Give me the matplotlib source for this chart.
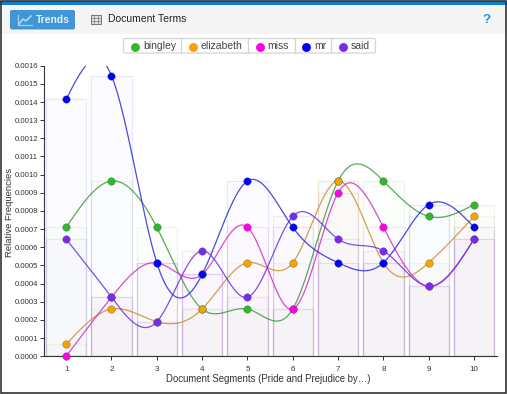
"""Trends panel: relative frequencies of five terms across document segments."""

import matplotlib
matplotlib.use("Agg")
import matplotlib.pyplot as plt
import numpy as np
from matplotlib.patches import FancyBboxPatch, Rectangle

W, H = 507, 394

segments = [1, 2, 3, 4, 5, 6, 7, 8, 9, 10]
y_ticks = [i / 10000 for i in range(17)]

bingley = [0.00071, 0.000965, 0.00071, 0.00026, 0.00026, 0.00026, 0.000965, 0.000965, 0.00077, 0.000835]
elizabeth = [0.000065, 0.00026, 0.00019, 0.00026, 0.000515, 0.000515, 0.000965, 0.000515, 0.000515, 0.00077]
miss = [0.0, 0.000325, 0.000515, 0.00045, 0.00071, 0.00026, 0.0009, 0.00071, 0.000385, 0.000645]
mr = [0.001415, 0.001545, 0.000515, 0.00045, 0.000965, 0.00071, 0.000515, 0.000515, 0.000835, 0.00071]
said = [0.000645, 0.000325, 0.00019, 0.00058, 0.000325, 0.00077, 0.000645, 0.00058, 0.000385, 0.000645]

terms = ["bingley", "elizabeth", "miss", "mr", "said"]
series = [bingley, elizabeth, miss, mr, said]
marker_colors = ["#2db82d", "#f5a300", "#ff00e6", "#0000ff", "#7a28f5"]
line_colors = ["#3f9a3f", "#c8922a", "#cc2fcc", "#2a2ad8", "#6a30e0"]


def natural_spline(x, y, n=40):
    # natural cubic spline, same idea as d3's curveNatural
    x = np.asarray(x, float)
    y = np.asarray(y, float)
    k = len(x)
    h = np.diff(x)
    A = np.zeros((k, k))
    b = np.zeros(k)
    A[0, 0] = A[-1, -1] = 1
    for i in range(1, k - 1):
        A[i, i - 1] = h[i - 1]
        A[i, i] = 2 * (h[i - 1] + h[i])
        A[i, i + 1] = h[i]
        b[i] = 6 * ((y[i + 1] - y[i]) / h[i] - (y[i] - y[i - 1]) / h[i - 1])
    m = np.linalg.solve(A, b)
    xs, ys = [], []
    for i in range(k - 1):
        t = np.linspace(x[i], x[i + 1], n)
        a1 = (x[i + 1] - t) / h[i]
        a2 = (t - x[i]) / h[i]
        ys.append(a1 * y[i] + a2 * y[i + 1]
                  + ((a1 ** 3 - a1) * m[i] + (a2 ** 3 - a2) * m[i + 1]) * h[i] ** 2 / 6)
        xs.append(t)
    return np.concatenate(xs), np.concatenate(ys)


plt.rcParams["font.family"] = ["Liberation Sans", "DejaVu Sans"]
fig = plt.figure(figsize=(W / 100, H / 100), dpi=100, facecolor="white")

# window chrome, in pixel coordinates
bg = fig.add_axes([0, 0, 1, 1], zorder=0)
bg.set_xlim(0, W)
bg.set_ylim(H, 0)
bg.axis("off")
bg.add_patch(Rectangle((0, 5), W, 29, color="#f5f5f5", lw=0))
bg.add_patch(Rectangle((0, 1), W, 4, color="#0c7fd0", lw=0))
bg.add_patch(Rectangle((1, 1), W - 2.5, H - 2.5, fill=False, ec="#333333", lw=1.2))

bg.add_patch(FancyBboxPatch((10.5, 10.5), 64, 18.5, boxstyle="round,pad=0,rounding_size=1.5",
                            fc="#3f96d8", ec="#3a8cc8", lw=0.6))
bg.plot([18, 18, 32], [15, 25, 25], color="#a9d2ef", lw=0.9)
bg.plot([19, 23, 26, 31], [24, 19, 21, 16], color="#a9d2ef", lw=1.3)
bg.text(36, 19.6, "Trends", color="#e8f3fb", fontsize=7.4, fontweight="bold", va="center")

bg.add_patch(Rectangle((91, 15), 10, 9, fc="#e4e4e4", ec="#777777", lw=0.7))
for gx in (94.3, 97.6):
    bg.plot([gx, gx], [15, 24], color="#777777", lw=0.5)
for gy in (18, 21):
    bg.plot([91, 101], [gy, gy], color="#777777", lw=0.5)
bg.text(108, 19.3, "Document Terms", color="#222222", fontsize=7.5, va="center")
bg.text(486, 20, "?", color="#2f8fd0", fontsize=9.5, fontweight="bold", ha="center", va="center")

# legend buttons
edges = [123.5, 181, 248, 294.5, 331, 375.5]
bg.add_patch(FancyBboxPatch((edges[0], 38.5), edges[-1] - edges[0], 14.5,
                            boxstyle="round,pad=0,rounding_size=1.5",
                            fc="white", ec="#d5d5d5", lw=0.9))
for e in edges[1:-1]:
    bg.plot([e, e], [38.5, 53], color="#d5d5d5", lw=0.9)
for term, color, e in zip(terms, marker_colors, edges):
    bg.plot(e + 11.5, 46.5, "o", color=color, ms=6.4, mew=0)
    bg.text(e + 19.5, 46.2, term, color="#444444", fontsize=7.5, va="center")

# plot area
left, right, top, bottom = 43.5, 496.7, 65.7, 356.2
ax = fig.add_axes([left / W, 1 - bottom / H, (right - left) / W, (bottom - top) / H], zorder=1)
ax.patch.set_alpha(0)
ax.set_xlim(0.5, 10.5)
ax.set_ylim(0, 0.0016)

for values, mc in zip(series, marker_colors):
    ax.bar(segments, values, width=0.89, color=mc, alpha=0.012, lw=0, zorder=1)
    ax.bar(segments, values, width=0.89, fill=False, edgecolor=mc, alpha=0.09, lw=0.9, zorder=1)

for values, mc, lc in zip(series, marker_colors, line_colors):
    xs, ys = natural_spline(segments, values)
    ax.plot(xs, ys, color=lc, lw=0.9, alpha=0.85, zorder=3)
for i, (values, mc) in enumerate(zip(series, marker_colors)):
    ax.plot(segments, values, "o", color=mc, ms=5.4, mew=0.25, mec="#555555",
            clip_on=False, zorder=4 + i)

ax.set_xticks(segments)
ax.set_yticks(y_ticks)
ax.set_yticklabels([f"{t:.4f}" for t in y_ticks])
ax.tick_params(axis="y", labelsize=5.6, colors="#333333", length=3, width=0.7, pad=1)
ax.tick_params(axis="x", labelsize=5.8, colors="#333333", length=3, width=0.7, pad=4)
for side in ("top", "right"):
    ax.spines[side].set_visible(False)
for side in ("left", "bottom"):
    ax.spines[side].set_color("#333333")
    ax.spines[side].set_linewidth(0.8)

bg.text(9.5, 212, "Relative Frequencies", rotation=90, fontsize=6.8, color="#333333",
        ha="center", va="center")
bg.text(268.5, 378.5, "Document Segments (Pride and Prejudice by…)", fontsize=6.95,
        color="#333333", ha="center", va="center")

fig.savefig("out.png", dpi=100)
